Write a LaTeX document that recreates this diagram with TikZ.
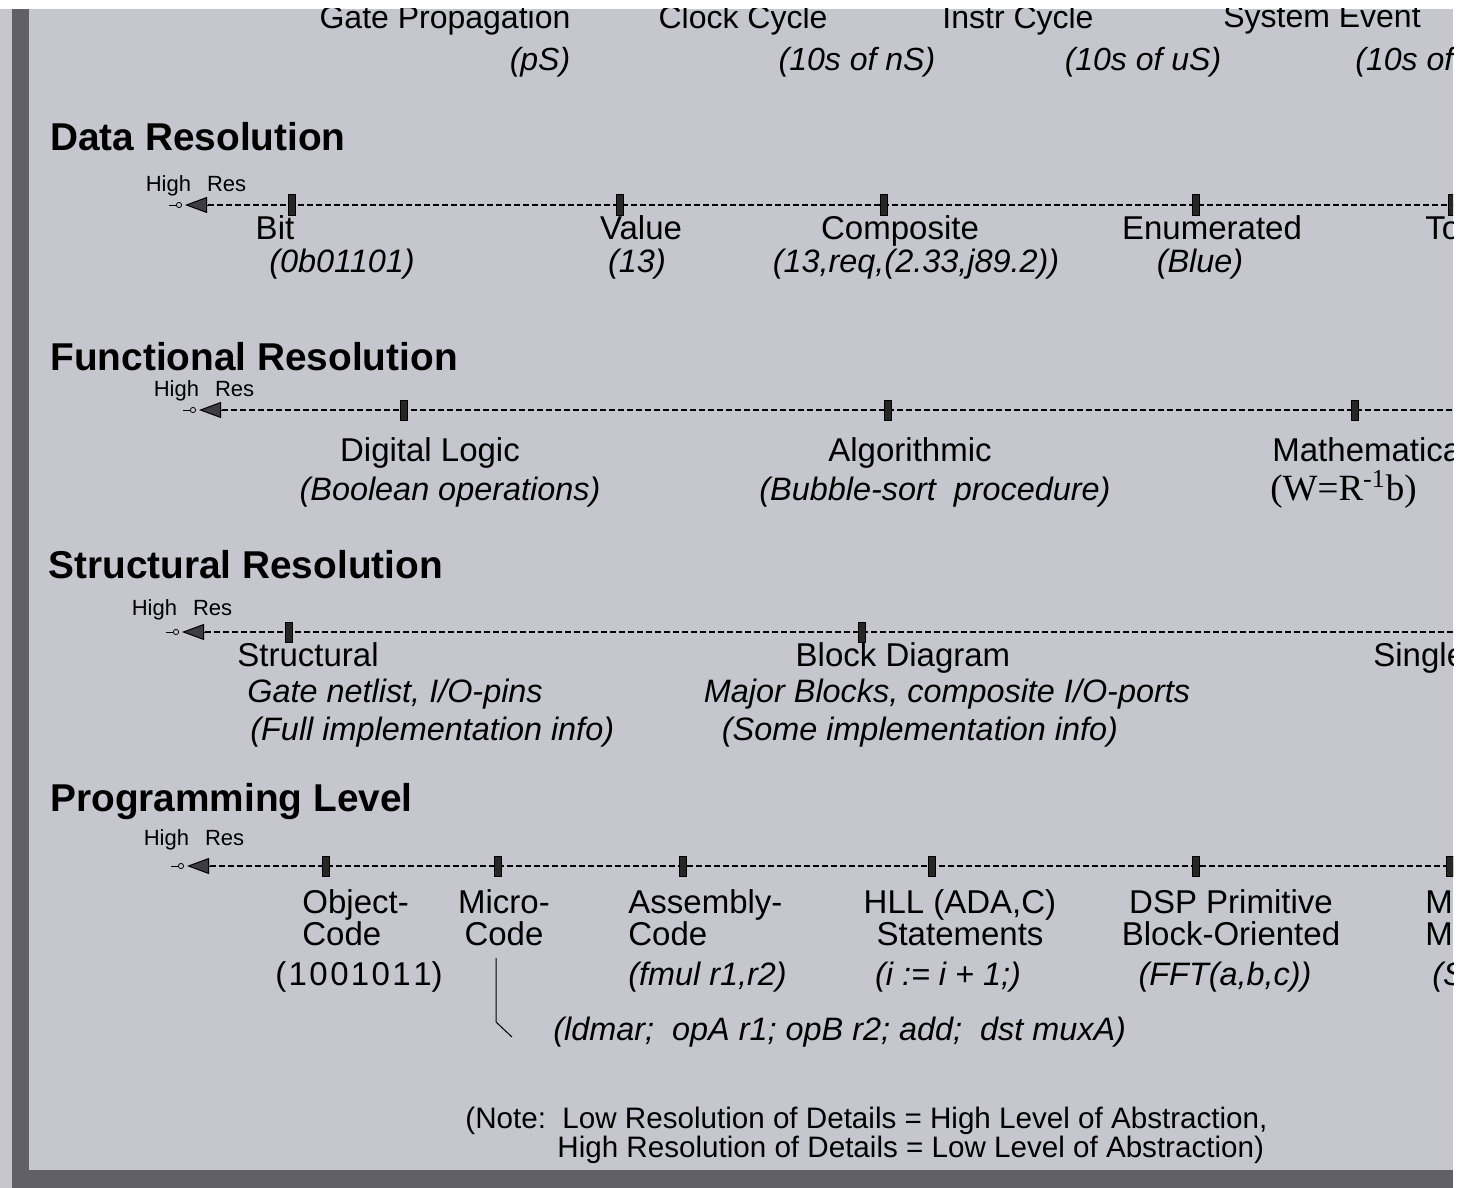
\documentclass[tikz,border=0pt]{standalone}
\usepackage{fontspec}
\setmainfont{Liberation Sans}
\newfontfamily\serifrm{Liberation Serif}
\usetikzlibrary{arrows.meta,positioning}
\definecolor{panelgray}{RGB}{198,198,206}
\definecolor{checker}{RGB}{96,96,102}
\definecolor{hatch}{RGB}{60,60,66}
\newcommand{\bk}{\kern1.2pt}
\tikzset{
  heading/.style={anchor=west,inner sep=0pt,font=\fontsize{19.4}{22}\selectfont\bfseries},
  timelbl/.style={inner sep=0pt,font=\fontsize{16}{18}\selectfont},
  itimelbl/.style={inner sep=0pt,font=\fontsize{16}{18}\selectfont\itshape},
  lbl/.style={inner sep=0pt,yshift=-2pt,text height=0.72em,text depth=0.2em,font=\fontsize{16.5}{16}\selectfont},
  ilbl/.style={inner sep=0pt,yshift=-2pt,text height=0.72em,text depth=0.2em,font=\fontsize{16.2}{16}\selectfont\itshape},
  lbltwo/.style={inner sep=0pt,align=center,font=\fontsize{16.5}{16}\selectfont},
  hires/.style={inner sep=0pt,font=\fontsize{11}{12}\selectfont},
  notetext/.style={anchor=west,inner sep=0pt,font=\fontsize{14.8}{14.5}\selectfont},
  tickbox/.style={draw=black,fill=black!85,line width=0.5pt,minimum width=3.5pt,minimum height=10pt,inner sep=0pt},
  tipring/.style={circle,draw=black,line width=0.4pt,fill=panelgray,minimum size=2.6pt,inner sep=0pt},
  axis/.style={draw=black,line width=0.6pt,dash pattern=on 3pt off 1.5pt},
  resarrow/.style={draw=black,line width=0.5pt,-{Triangle[length=11pt,width=8pt,fill=hatch]}},
  link/.style={draw=black,line width=0.5pt}
}

\begin{document}
\begin{tikzpicture}[x=0.5pt,y=-0.5pt]
\useasboundingbox (0,0) rectangle (1468,1188);
\begin{scope}
\clip (0,9) rectangle (1453,1188);
\fill[panelgray] (0,9) rectangle (1453,1188);
\fill[checker] (12,9) rectangle (29,1188);
\fill[checker] (12,1170) rectangle (1453,1188);

% time scale
\node[timelbl] (tgate) at (445,20) {Gate Propagation};
\node[itimelbl] (tgateu) at (540,62) {(pS)};
\node[timelbl] (tclock) at (743,20) {Clock Cycle};
\node[itimelbl] (tclocku) at (857,62) {(10s of nS)};
\node[timelbl] (tinstr) at (1018,20) {Instr Cycle};
\node[itimelbl] (tinstru) at (1143,62) {(10s of uS)};
\node[timelbl] (tevent) at (1322,20) {System Event};
\node[itimelbl,anchor=west] (teventu) at (1355,62) {(10s of mS)};

% data
\node[heading] (datahead) at (50,137) {Data Resolution};
\node[hires] (datahr) at (196,186) {High\hspace{8pt}Res};
\coordinate (dstart) at (208,205);
\coordinate (dtip) at (185,205);
\coordinate (dend) at (1470,205);
\draw[axis] (dstart) -- (dend);
\draw[resarrow] (dstart) -- (dtip);
\node[tipring] (dring) at (179,205) {};
\draw[link] (dring.west) -- ++(-7,0);
\node[tickbox] (d1) at (292,205) {};
\node[tickbox] (d2) at (620,205) {};
\node[tickbox] (d3) at (884,205) {};
\node[tickbox] (d4) at (1196,205) {};
\node[tickbox] (d5) at (1452,205) {};
\node[lbl] (bit) at (275,230) {Bit};
\node[ilbl] (bitx) at (342,263) {(0b01101)};
\node[lbl] (value) at (641,230) {Value};
\node[ilbl] (valuex) at (637,263) {(13)};
\node[lbl] (comp) at (900,230) {Composite};
\node[ilbl] (compx) at (916,263) {(13,req,(2.33,j89.2))};
\node[lbl] (enum) at (1212,230) {Enumerated};
\node[ilbl] (enumx) at (1200,263) {(Blue)};
\node[lbl,anchor=west] (token) at (1425,230) {Token};

% functional
\node[heading] (funchead) at (50,357) {Functional Resolution};
\node[hires] (funchr) at (204,391) {High\hspace{8pt}Res};
\coordinate (fstart) at (222,410);
\coordinate (ftip) at (199,410);
\coordinate (fend) at (1470,410);
\draw[axis] (fstart) -- (fend);
\draw[resarrow] (fstart) -- (ftip);
\node[tipring] (fring) at (193,410) {};
\draw[link] (fring.west) -- ++(-7,0);
\node[tickbox] (f1) at (404,410) {};
\node[tickbox] (f2) at (888,410) {};
\node[tickbox] (f3) at (1355,410) {};
\node[lbl] (logic) at (430,452) {Digital Logic};
\node[ilbl] (logicx) at (450,491) {(Boolean operations)};
\node[lbl] (algo) at (910,452) {Algorithmic};
\node[ilbl] (algox) at (935,491) {(Bubble-sort\ \ procedure)};
\node[lbl,anchor=west] (math) at (1272,452) {Mathematical};
\node[lbl,anchor=west,font=\fontsize{18.5}{18}\selectfont\serifrm] (mathx) at (1270,491) {(W=R\textsuperscript{-1}b)};

% structural
\node[heading] (structhead) at (48,565) {Structural Resolution};
\node[hires] (structhr) at (182,610) {High\hspace{8pt}Res};
\coordinate (sstart) at (205,632);
\coordinate (stip) at (182,632);
\coordinate (send) at (1470,632);
\draw[axis] (sstart) -- (send);
\draw[resarrow] (sstart) -- (stip);
\node[tipring] (sring) at (176,632) {};
\draw[link] (sring.west) -- ++(-7,0);
\node[tickbox] (s1) at (289,632) {};
\node[tickbox] (s2) at (862,632) {};
\node[lbl,anchor=west] (gates) at (237,657) {Structural};
\node[ilbl,anchor=west] (gatesx) at (247,693) {Gate netlist, I/O-pins};
\node[ilbl,anchor=west] (gatesy) at (250,731) {(Full implementation info)};
\node[lbl] (block) at (903,657) {Block Diagram};
\node[ilbl] (blockx) at (947,693) {Major Blocks, composite I/O-ports};
\node[ilbl] (blocky) at (920,731) {(Some implementation info)};
\node[lbl,anchor=west] (single) at (1373,657) {Single};

% programming
\node[heading] (proghead) at (50,802) {Programming Level};
\node[hires] (proghr) at (194,840) {High\hspace{8pt}Res};
\coordinate (pstart) at (210,866);
\coordinate (ptip) at (187,866);
\coordinate (pend) at (1470,866);
\draw[axis] (pstart) -- (pend);
\draw[resarrow] (pstart) -- (ptip);
\node[tipring] (pring) at (181,866) {};
\draw[link] (pring.west) -- ++(-7,0);
\node[tickbox] (p1) at (326,866) {};
\node[tickbox] (p2) at (498,866) {};
\node[tickbox] (p3) at (683,866) {};
\node[tickbox] (p4) at (932,866) {};
\node[tickbox] (p5) at (1196,866) {};
\node[tickbox] (p6) at (1450,866) {};
\node[lbltwo,align=left,anchor=west] (obj) at (302,918) {Object-\\Code};
\node[lbl] (objx) at (359,976) {(\bk1\bk0\bk0\bk1\bk0\bk1\bk1)};
\node[lbltwo] (micro) at (504,918) {Micro-\\Code};
\node[lbltwo,align=left,anchor=west] (asm) at (628,918) {Assembly-\\Code};
\node[ilbl,anchor=west] (asmx) at (628,976) {(fmul r1,r2)};
\node[lbltwo] (hll) at (960,918) {HLL (ADA,C)\\Statements};
\node[ilbl] (hllx) at (948,976) {(i := i + 1;)};
\node[lbltwo] (dsp) at (1231,918) {DSP Primitive\\Block-Oriented};
\node[ilbl] (dspx) at (1225,976) {(FFT(a,b,c))};
\node[lbltwo,align=left,anchor=west] (mlevel) at (1425,918) {M\\M};
\node[ilbl,anchor=west] (mlevelx) at (1432,976) {(S};
\coordinate (mtop) at (496,958);
\coordinate (mbend) at (496,1022);
\coordinate (mfoot) at (512,1037);
\draw[link] (mtop) -- (mbend) -- (mfoot);
\node[ilbl,anchor=west] (microx) at (553,1031) {(ldmar;\ \ opA r1; opB r2; add;\ \ dst muxA)};

% note
\node[notetext] (note1) at (465,1121) {(Note:\ \ Low Resolution of Details = High Level of Abstraction,};
\node[notetext] (note2) at (557,1150) {High Resolution of Details = Low Level of Abstraction)};
\end{scope}
\end{tikzpicture}
\end{document}
